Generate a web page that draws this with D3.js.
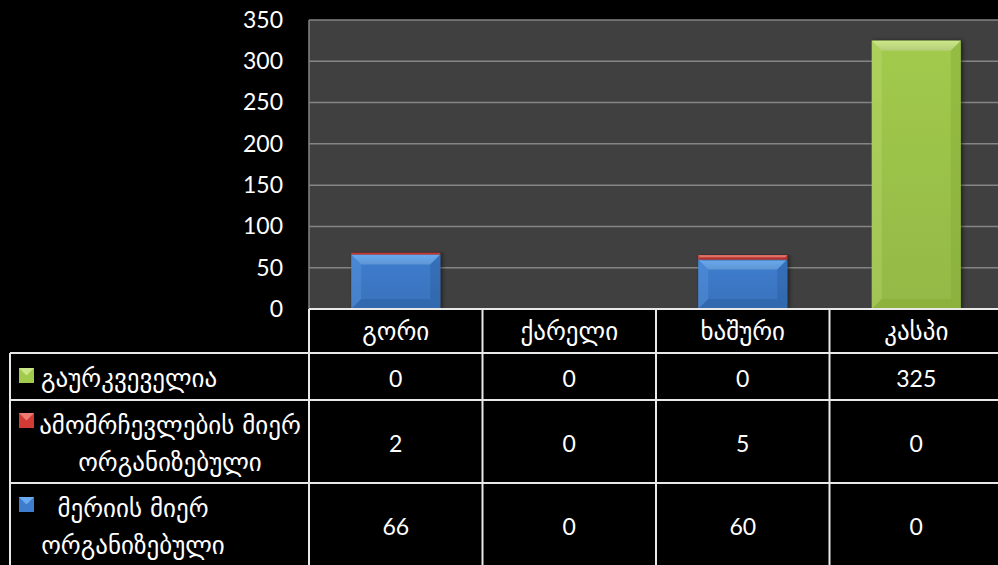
<!DOCTYPE html>
<html><head><meta charset="utf-8">
<script src="https://cdn.jsdelivr.net/npm/d3@7"></script>
<style>
html,body{margin:0;padding:0;background:#000;}
svg{display:block;}
text{fill:#fff;}
</style></head>
<body>
<svg id="chart" width="998" height="565"></svg>
<script>
const categories = ["გორი", "ქარელი", "ხაშური", "კასპი"];
const seriesNames = ["გაურკვეველია", "ამომრჩევლების მიერ ორგანიზებული", "მერიის მიერ ორგანიზებული"];
const undetermined = [0, 0, 0, 325];
const byVoters = [2, 0, 5, 0];
const byCityHall = [66, 0, 60, 0];
const yTicks = [0, 50, 100, 150, 200, 250, 300, 350];

const colors = {
  cityHall: {base: "#3e7dce", light: "#6aaaf0", dark: "#2b5d9c"},
  voters:   {base: "#d23a35", light: "#ee7a72", dark: "#a02a26"},
  undet:    {base: "#a2ca4c", light: "#cbe888", dark: "#82a834"}
};

const W = 998, H = 565;
const plot = {left: 309, right: 1003, top: 20, bottom: 309};
const svg = d3.select("#chart");
const fontNum = "Lato, 'DejaVu Sans', sans-serif";
const fontGeo = "'DejaVu Sans', sans-serif";

const x = d3.scaleBand().domain(categories).range([plot.left, plot.right])
  .paddingInner(0.487).paddingOuter(0.2435);
const y = d3.scaleLinear().domain([0, 350]).range([plot.bottom, plot.top]);

svg.append("rect").attr("x", plot.left).attr("y", plot.top)
  .attr("width", plot.right - plot.left).attr("height", plot.bottom - plot.top)
  .attr("fill", "#404040");

svg.append("g").selectAll("line").data(yTicks.filter(d => d > 0)).join("line")
  .attr("x1", plot.left).attr("x2", plot.right)
  .attr("y1", d => y(d)).attr("y2", d => y(d))
  .attr("stroke", "#858585").attr("stroke-width", 1.5);
svg.append("line").attr("x1", plot.left).attr("x2", plot.left)
  .attr("y1", plot.top).attr("y2", plot.bottom)
  .attr("stroke", "#858585").attr("stroke-width", 1.5);

const yAxis = d3.axisLeft(y).tickValues(yTicks).tickSize(0).tickPadding(26);
const gy = svg.append("g").attr("transform", `translate(${plot.left},0)`).call(yAxis);
gy.select(".domain").remove();
gy.selectAll("text").attr("fill", "#fff").style("font-family", fontNum).style("font-size", "23px");

const rows = categories.map((c, i) => ({cat: c, cityHall: byCityHall[i], voters: byVoters[i], undet: undetermined[i]}));
const stack = d3.stack().keys(["cityHall", "voters", "undet"]);
const layers = stack(rows);

const defs = svg.append("defs");
Object.entries(colors).forEach(([k, c]) => {
  const g = defs.append("linearGradient").attr("id", "g-" + k).attr("x1", 0).attr("x2", 0).attr("y1", 0).attr("y2", 1);
  g.append("stop").attr("offset", "0%").attr("stop-color", c.base);
  g.append("stop").attr("offset", "100%").attr("stop-color", d3.color(c.base).darker(0.25));
  const t = defs.append("linearGradient").attr("id", "t-" + k).attr("x1", 0).attr("x2", 0).attr("y1", 0).attr("y2", 1);
  t.append("stop").attr("offset", "0%").attr("stop-color", c.light);
  t.append("stop").attr("offset", "100%").attr("stop-color", d3.color(c.light).darker(0.35));
});
const shadow = defs.append("filter").attr("id", "shadow").attr("x", "-10%").attr("y", "-10%").attr("width", "130%").attr("height", "130%");
shadow.append("feDropShadow").attr("dx", 2).attr("dy", 0).attr("stdDeviation", 2).attr("flood-color", "#000").attr("flood-opacity", 0.5);

layers.forEach(layer => {
  const c = colors[layer.key];
  const g = svg.append("g").attr("class", "layer-" + layer.key);
  layer.forEach((d, i) => {
    const v = d[1] - d[0];
    if (v <= 0) return;
    const x0 = x(d.data.cat), bw = x.bandwidth();
    const yTop = y(d[1]), yBot = y(d[0]);
    const h = yBot - yTop;
    const b = Math.min(10, h / 2);
    const seg = g.append("g").attr("filter", "url(#shadow)");
    seg.append("rect").attr("x", x0).attr("y", yTop).attr("width", bw).attr("height", h).attr("fill", `url(#g-${layer.key})`);
    if (h > 4) {
      seg.append("polygon").attr("points", [[x0, yTop], [x0 + bw, yTop], [x0 + bw - b, yTop + b], [x0 + b, yTop + b]].join(" "))
        .attr("fill", `url(#t-${layer.key})`);
      seg.append("polygon").attr("points", [[x0, yTop], [x0 + b, yTop + b], [x0 + b, yBot - b], [x0, yBot]].join(" "))
        .attr("fill", c.light).attr("opacity", 0.25);
      seg.append("polygon").attr("points", [[x0 + bw, yTop], [x0 + bw - b, yTop + b], [x0 + bw - b, yBot - b], [x0 + bw, yBot]].join(" "))
        .attr("fill", c.dark).attr("opacity", 0.4);
      seg.append("polygon").attr("points", [[x0, yBot], [x0 + b, yBot - b], [x0 + bw - b, yBot - b], [x0 + bw, yBot]].join(" "))
        .attr("fill", c.dark).attr("opacity", 0.45);
    }
  });
});

const tableTop = plot.bottom, headerBottom = 353;
const legendLeft = 10;
const lineColor = "#e8e8e8";
const tg = svg.append("g");
const step = x.step();
const colEdges = categories.map(c => x(c) - (step - x.bandwidth()) / 2).concat([plot.right]);

tg.append("line").attr("x1", plot.left).attr("x2", plot.right).attr("y1", tableTop).attr("y2", tableTop)
  .attr("stroke", lineColor).attr("stroke-width", 2);
[headerBottom, 400, 483].forEach(yy => {
  tg.append("line").attr("x1", legendLeft).attr("x2", plot.right).attr("y1", yy).attr("y2", yy)
    .attr("stroke", lineColor).attr("stroke-width", 2);
});
colEdges.forEach(cx => {
  tg.append("line").attr("x1", cx).attr("x2", cx).attr("y1", tableTop).attr("y2", H)
    .attr("stroke", lineColor).attr("stroke-width", 2);
});
tg.append("line").attr("x1", legendLeft).attr("x2", legendLeft).attr("y1", headerBottom).attr("y2", H)
  .attr("stroke", lineColor).attr("stroke-width", 2);

tg.selectAll("text.cat").data(categories).join("text").attr("class", "cat")
  .attr("x", d => x(d) + x.bandwidth() / 2).attr("y", (tableTop + headerBottom) / 2)
  .attr("text-anchor", "middle").attr("dominant-baseline", "central")
  .style("font-family", fontGeo).style("font-size", "25px").text(d => d);

const seriesRows = [
  {key: "undet", values: undetermined, yc: 378},
  {key: "voters", values: byVoters, yc: 443},
  {key: "cityHall", values: byCityHall, yc: 526}
];
seriesRows.forEach(sr => {
  tg.selectAll(null).data(sr.values).join("text")
    .attr("x", (d, i) => x(categories[i]) + x.bandwidth() / 2).attr("y", sr.yc)
    .attr("text-anchor", "middle").attr("dominant-baseline", "central")
    .style("font-family", fontNum).style("font-size", "23px").text(d => d);
});

const markerY = [368, 413, 497];
seriesRows.forEach((sr, i) => {
  const c = colors[sr.key];
  const mx = 19, my = markerY[i], s = 15;
  tg.append("rect").attr("x", mx).attr("y", my).attr("width", s).attr("height", s).attr("fill", c.base);
  tg.append("polygon").attr("points", [[mx, my], [mx + s, my], [mx + s / 2, my + s / 2]].join(" ")).attr("fill", c.light);
});

const legendLines = [
  {lines: [seriesNames[0]], xs: [41], anchor: "start", ys: [378]},
  {lines: ["ამომრჩევლების მიერ", "ორგანიზებული"], xs: [170, 170], anchor: "middle", ys: [425, 462]},
  {lines: ["მერიის მიერ", "ორგანიზებული"], xs: [133, 133], anchor: "middle", ys: [508, 545]}
];
legendLines.forEach(l => {
  l.lines.forEach((t, j) => {
    tg.append("text").attr("x", l.xs[j]).attr("y", l.ys[j])
      .attr("text-anchor", l.anchor).attr("dominant-baseline", "central")
      .style("font-family", fontGeo).style("font-size", "25px").text(t);
  });
});
</script>
</body></html>
